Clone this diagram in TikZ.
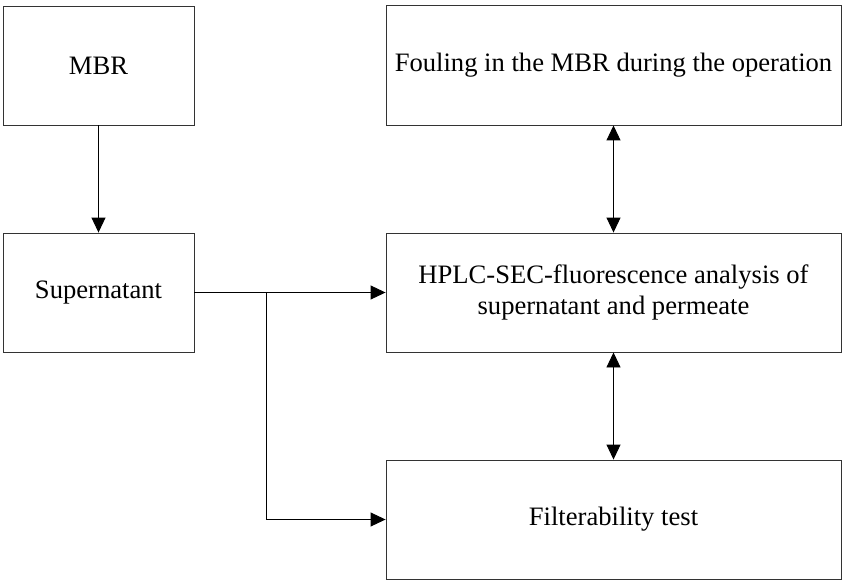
\documentclass[tikz,border=0pt]{standalone}
\usepackage{fontspec}
\setmainfont{Liberation Serif}
\usetikzlibrary{arrows.meta}
\begin{document}
\begin{tikzpicture}[x=1pt,y=-1pt,
  box/.style={draw=black!80,line width=0.9pt,align=center,inner sep=0pt,
    font=\fontsize{26.6}{31.7}\selectfont},
  conn/.style={line width=0.9pt,-{Triangle[length=15pt,width=14pt]}},
  bidir/.style={line width=0.9pt,{Triangle[length=15pt,width=14pt]}-{Triangle[length=15pt,width=14pt]}}]
\useasboundingbox (0,0) rectangle (842,580);
\node[box,minimum width=191pt,minimum height=119pt] (mbr) at (98.5,65.5) {MBR};
\node[box,minimum width=191pt,minimum height=119pt] (sup) at (98.5,292.5) {Supernatant};
\node[box,minimum width=455pt,minimum height=120pt] (foul) at (613.5,65) {Fouling in the MBR during the operation};
\node[box,minimum width=455pt,minimum height=119pt] (hplc) at (613.5,292.5) {HPLC-SEC-fluorescence analysis of\\supernatant and permeate};
\node[box,minimum width=455pt,minimum height=119pt] (filt) at (613.5,519.5) {Filterability test};
\coordinate (br) at (266,292.5);
\coordinate (bd) at (266,519.5);
\draw[conn] (mbr) -- (sup);
\draw[conn] (sup) -- (hplc);
\draw[conn] (br) -- (bd) -- (filt);
\draw[bidir] (foul) -- (hplc);
\draw[bidir] (hplc) -- (filt);
\end{tikzpicture}
\end{document}
